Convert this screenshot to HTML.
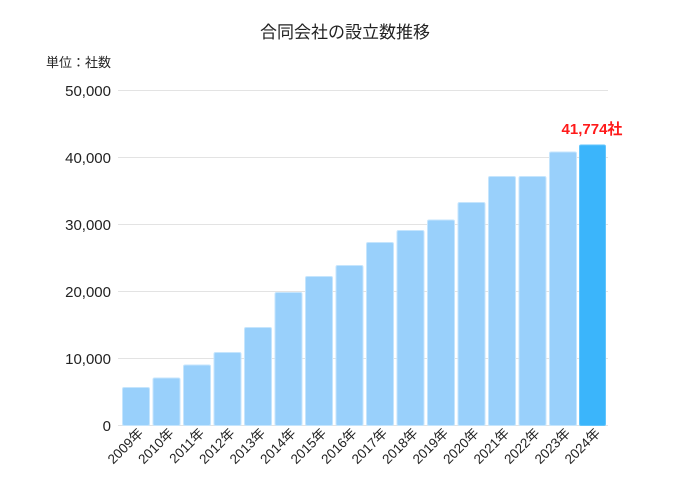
<!DOCTYPE html>
<html><head><meta charset="utf-8"><style>
html,body{margin:0;padding:0;background:#fff;}
svg{display:block;font-family:"Liberation Sans","Noto Sans CJK JP",sans-serif;}
</style></head><body>
<svg width="691" height="485" viewBox="0 0 691 485">
<text x="345" y="38" text-anchor="middle" font-size="17" fill="#222">合同会社の設立数推移</text>
<text x="46" y="67" font-size="13" fill="#222">単位：社数</text>
<g stroke="#e3e3e3" stroke-width="1">
<line x1="118" y1="90.5" x2="608" y2="90.5"/>
<line x1="118" y1="157.5" x2="608" y2="157.5"/>
<line x1="118" y1="224.5" x2="608" y2="224.5"/>
<line x1="118" y1="291.5" x2="608" y2="291.5"/>
<line x1="118" y1="358.5" x2="608" y2="358.5"/>
<line x1="118" y1="425.5" x2="608" y2="425.5"/>
</g>
<g font-size="15" fill="#222" text-anchor="end">
<text x="111" y="96">50,000</text>
<text x="111" y="163">40,000</text>
<text x="111" y="230">30,000</text>
<text x="111" y="297">20,000</text>
<text x="111" y="364">10,000</text>
<text x="111" y="431">0</text>
</g>
<g fill="#99d0fb" stroke="#c5e5fd" stroke-width="1">
<rect x="122.5" y="387.5" width="27" height="38" rx="1.5"/>
<rect x="153" y="378" width="27" height="47.5" rx="1.5"/>
<rect x="183.5" y="365" width="27" height="60.5" rx="1.5"/>
<rect x="214" y="352.5" width="27" height="73" rx="1.5"/>
<rect x="244.5" y="327.5" width="27" height="98" rx="1.5"/>
<rect x="275" y="292.5" width="27" height="133" rx="1.5"/>
<rect x="305.5" y="276.5" width="27" height="149" rx="1.5"/>
<rect x="336" y="265.5" width="27" height="160" rx="1.5"/>
<rect x="366.5" y="242.5" width="27" height="183" rx="1.5"/>
<rect x="397" y="230.5" width="27" height="195" rx="1.5"/>
<rect x="427.5" y="220" width="27" height="205.5" rx="1.5"/>
<rect x="458" y="202.5" width="27" height="223" rx="1.5"/>
<rect x="488.5" y="176.5" width="27" height="249" rx="1.5"/>
<rect x="519" y="176.5" width="27" height="249" rx="1.5"/>
<rect x="549.5" y="152" width="27" height="273.5" rx="1.5"/>
</g>
<rect x="579.5" y="145" width="26" height="280.5" rx="1.5" fill="#3bb5fb" stroke="#62c5fc"/>
<text x="592" y="134" text-anchor="middle" font-size="15" font-weight="bold" fill="#ff1a1a">41,774社</text>
<g font-size="13.5" fill="#222" text-anchor="end">
<text transform="translate(144,434) rotate(-45)">2009年</text>
<text transform="translate(174.5,434) rotate(-45)">2010年</text>
<text transform="translate(205,434) rotate(-45)">2011年</text>
<text transform="translate(235.5,434) rotate(-45)">2012年</text>
<text transform="translate(266,434) rotate(-45)">2013年</text>
<text transform="translate(296.5,434) rotate(-45)">2014年</text>
<text transform="translate(327,434) rotate(-45)">2015年</text>
<text transform="translate(357.5,434) rotate(-45)">2016年</text>
<text transform="translate(388,434) rotate(-45)">2017年</text>
<text transform="translate(418.5,434) rotate(-45)">2018年</text>
<text transform="translate(449,434) rotate(-45)">2019年</text>
<text transform="translate(479.5,434) rotate(-45)">2020年</text>
<text transform="translate(510,434) rotate(-45)">2021年</text>
<text transform="translate(540.5,434) rotate(-45)">2022年</text>
<text transform="translate(571,434) rotate(-45)">2023年</text>
<text transform="translate(601,434) rotate(-45)">2024年</text>
</g>
</svg>
</body></html>
